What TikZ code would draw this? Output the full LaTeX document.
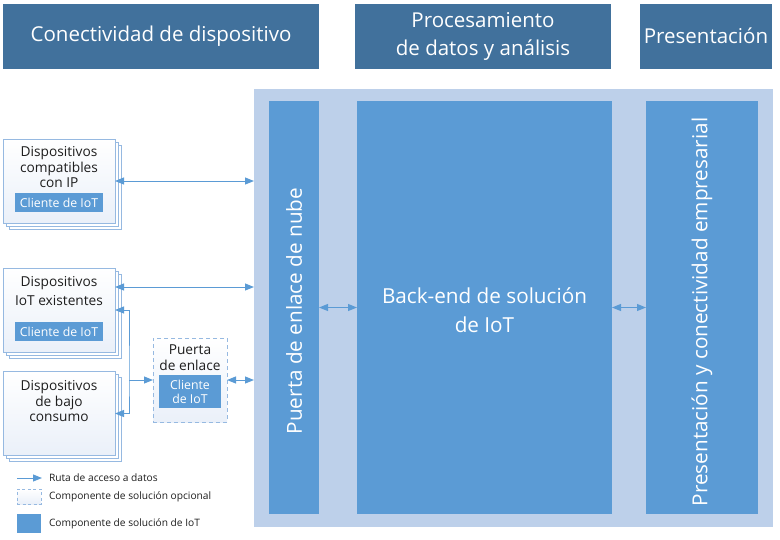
\documentclass[tikz,border=0pt]{standalone}
\usepackage{fontspec}
\setmainfont{Open Sans}
\usetikzlibrary{arrows.meta}
\definecolor{hdr}{RGB}{65,113,156}
\definecolor{panelc}{RGB}{189,208,234}
\definecolor{barc}{RGB}{91,155,213}
\definecolor{devb}{RGB}{150,185,225}
\definecolor{devf}{RGB}{234,240,249}
\definecolor{txt}{RGB}{30,30,30}
\begin{document}
\begin{tikzpicture}[x=1pt,y=-1pt,
  every node/.style={inner sep=0pt, outer sep=0pt},
  >={Triangle[length=9pt,width=7pt]},
  header/.style={fill=hdr, text=white, font=\fontsize{20.5}{28}\selectfont, align=center},
  barbox/.style={fill=barc},
  bartext/.style={text=white, font=\fontsize{20.7}{29}\selectfont, align=center},
  device/.style={draw=devb, line width=0.9pt, top color=white, bottom color=devf,
    minimum width=112pt, minimum height=84pt},
  devback/.style={draw=devb, line width=0.9pt, fill=white,
    minimum width=112pt, minimum height=84pt},
  devtext/.style={text=txt, font=\fontsize{13.7}{15.5}\selectfont, align=center},
  client/.style={fill=barc, text=white, font=\fontsize{12.3}{14}\selectfont, align=center,
    minimum width=88pt, minimum height=19pt},
  gwbox/.style={draw=devb, line width=1pt, dash pattern=on 4pt off 3pt,
    top color=white, bottom color=devf, minimum width=74pt, minimum height=84pt},
  arr/.style={draw=barc, line width=1pt},
  legtext/.style={text=txt, font=\fontsize{10.2}{12}\selectfont, anchor=west}
]
\useasboundingbox (0,0) rectangle (780,539);

% headers
\node[header, minimum width=316pt, minimum height=65pt] (h1) at (161,36) {Conectividad de dispositivo};
\node[header, minimum width=256pt, minimum height=65pt] (h2) at (483,36) {Procesamiento\\de datos y análisis};
\node[header, minimum width=132pt, minimum height=65pt] (h3) at (706,36) {Presentación};

% panel and bars
\node[fill=panelc, minimum width=519pt, minimum height=438pt, anchor=north west] (panel) at (254,88.5) {};
\node[barbox, minimum width=50pt, minimum height=413pt] (pg) at (294,307.5) {};
\node[barbox, minimum width=255pt, minimum height=413pt] (be) at (484.5,307.5) {};
\node[barbox, minimum width=112pt, minimum height=413pt] (pr) at (702,307.5) {};
\node[bartext, rotate=90] (pgt) at (294,311) {Puerta de enlace de nube};
\node[bartext] (bet) at (484.5,310.5) {Back-end de solución\\de IoT};
\node[bartext, rotate=90] (prt) at (702,312) {Presentación y conectividad empresarial};

% devices
\node[devback] (d1b) at (65,187) {};
\node[devback] (d1a) at (62,184) {};
\node[device] (d1) at (59,181) {};
\node[devtext] (t1) at (59,167.5) {Dispositivos\\compatibles\\con IP};
\node[client] (c1) at (59,202.5) {Cliente de IoT};

\node[devback] (d2b) at (65,316) {};
\node[devback] (d2a) at (62,313) {};
\node[device] (d2) at (59,310) {};
\node[devtext, font=\fontsize{13.7}{19}\selectfont] (t2) at (59,291.5) {Dispositivos\\IoT existentes};
\node[client] (c2) at (59,331.5) {Cliente de IoT};

\node[devback] (d3b) at (65,419.5) {};
\node[devback] (d3a) at (62,416.5) {};
\node[device] (d3) at (59,413.5) {};
\node[devtext] (t3) at (59,401.5) {Dispositivos\\de bajo\\consumo};

% gateway
\node[gwbox] (gw) at (190,380) {};
\node[devtext, font=\fontsize{13.7}{16}\selectfont] (gwt) at (190,358) {Puerta\\de enlace};
\node[client, minimum width=62pt, minimum height=33pt] (c4) at (190,391.5) {Cliente\\de IoT};

% connectors
\draw[arr,<->] (d1.east) -- (d1.east -| panel.west);
\draw[arr,<->] ([yshift=23pt]d2.east) -- ([yshift=23pt]d2.east -| panel.west);
\coordinate (j) at (129,380);
\draw[arr,<->] (d2.east) -| (j) |- (d3.east);
\draw[arr,->] (j) -- (gw.west);
\draw[arr,<->] (gw.east) -- (gw.east -| panel.west);
\draw[arr,<->] (pg.east) -- (be.west);
\draw[arr,<->] (be.east) -- (pr.west);

% legend
\coordinate (la) at (17,478);
\coordinate (lb) at (42,478);
\draw[arr,->] (la) -- (lb);
\node[legtext] (l1) at (49,478) {Ruta de acceso a datos};
\node[draw=devb, line width=0.8pt, dash pattern=on 3pt off 2.5pt, top color=white, bottom color=devf,
  minimum width=24pt, minimum height=15pt] (ld) at (29,496.5) {};
\node[legtext] (l2) at (49,497) {Componente de solución opcional};
\node[fill=barc, minimum width=24pt, minimum height=19pt] (lf) at (29,523.5) {};
\node[legtext] (l3) at (49,523.5) {Componente de solución de IoT};
\end{tikzpicture}
\end{document}
